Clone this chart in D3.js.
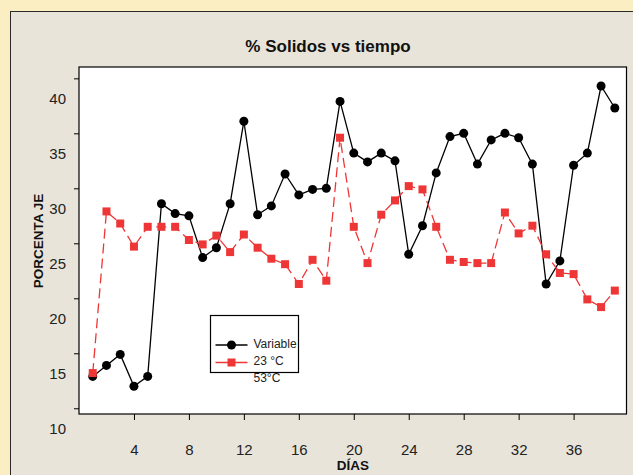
<!DOCTYPE html>
<html>
<head>
<meta charset="utf-8">
<script src="https://cdn.jsdelivr.net/npm/d3@7"></script>
<style>
  body { margin: 0; background: #fbeec3; }
  svg text { font-family: Tahoma, "Liberation Sans", Roboto, sans-serif; }
</style>
</head>
<body>
<svg id="chart" width="633" height="475"></svg>
<script>
// dias (indice) y % solidos
const dias = [1,2,3,4,5,6,7,8,9,10,11,12,13,14,15,16,17,18,19,20,
              21,22,23,24,25,26,27,28,29,30,31,32,33,34,35,36,37,38,39];
const serie_negra = [12.9, 13.9, 14.9, 12.0, 12.9, 28.6, 27.7, 27.5, 23.7, 24.6,
                     28.6, 36.1, 27.6, 28.4, 31.3, 29.4, 29.9, 30.0, 37.9, 33.2,
                     32.4, 33.2, 32.5, 24.0, 26.6, 31.4, 34.7, 35.0, 32.2, 34.4,
                     35.0, 34.6, 32.2, 21.3, 23.4, 32.1, 33.2, 39.3, 37.3];
const serie_roja = [13.2, 27.9, 26.8, 24.7, 26.5, 26.5, 26.5, 25.3, 24.9, 25.7,
                    24.2, 25.8, 24.6, 23.6, 23.1, 21.3, 23.5, 21.6, 34.6, 26.5,
                    23.2, 27.6, 28.9, 30.2, 29.9, 26.5, 23.5, 23.3, 23.2, 23.2,
                    27.8, 25.9, 26.6, 24.0, 22.3, 22.2, 19.9, 19.2, 20.7];
const y_ticks = [10, 15, 20, 25, 30, 35, 40];
const x_ticks = [4, 8, 12, 16, 20, 24, 28, 32, 36];
const legend_labels = ['Variable', '23 °C', '53°C'];

const svg = d3.select('#chart');
const plot = {left: 79, right: 626.5, top: 67, bottom: 414};

// panel gris con borde
svg.append('rect')
    .attr('x', 10.5).attr('y', 11.5)
    .attr('width', 640).attr('height', 480)
    .attr('fill', '#e8e4da')
    .attr('stroke', '#2a2a2a')
    .attr('stroke-width', 1);

const x = d3.scaleLinear().domain([0, 39.85]).range([plot.left, plot.right]);
const y = d3.scaleLinear().domain([9.48, 41.03]).range([plot.bottom, plot.top]);

// area del grafico
svg.append('rect')
    .attr('x', plot.left).attr('y', plot.top)
    .attr('width', plot.right - plot.left).attr('height', plot.bottom - plot.top)
    .attr('fill', '#ffffff')
    .attr('stroke', '#000000')
    .attr('stroke-width', 1.2);

// ejes (las etiquetas aparecen desplazadas hacia abajo en el original)
const y_axis = svg.append('g')
    .attr('transform', 'translate(' + plot.left + ',0)')
    .call(d3.axisLeft(y).tickValues(y_ticks).tickSize(5).tickSizeOuter(0).tickPadding(8));
y_axis.select('.domain').remove();
y_axis.selectAll('text')
    .attr('dy', '0.32em')
    .attr('y', 20)
    .style('font-size', '15px')
    .attr('fill', '#222');

const x_axis = svg.append('g')
    .attr('transform', 'translate(0,' + plot.bottom + ')')
    .call(d3.axisBottom(x).tickValues(x_ticks).tickSize(6).tickSizeOuter(0));
x_axis.select('.domain').remove();
x_axis.selectAll('text')
    .attr('y', 30)
    .style('font-size', '15px')
    .attr('fill', '#222');

// titulos
svg.append('text')
    .attr('x', 328).attr('y', 51.5)
    .attr('text-anchor', 'middle')
    .style('font-size', '17px').style('font-weight', 'bold')
    .attr('fill', '#111')
    .text('% Solidos vs tiempo');

svg.append('text')
    .attr('transform', 'translate(43,241) rotate(-90)')
    .attr('text-anchor', 'middle')
    .style('font-size', '13.5px').style('font-weight', 'bold')
    .attr('fill', '#111')
    .text('PORCENTA JE');

svg.append('text')
    .attr('x', 353).attr('y', 470)
    .attr('text-anchor', 'middle')
    .style('font-size', '13.5px').style('font-weight', 'bold')
    .attr('fill', '#111')
    .text('DÍAS');

// series
const line_serie = d3.line().x((d, i) => x(dias[i])).y(d => y(d));
svg.append('path')
    .attr('d', line_serie(serie_negra))
    .attr('fill', 'none')
    .attr('stroke', '#000')
    .attr('stroke-width', 1.3);

svg.append('path')
    .attr('d', line_serie(serie_roja))
    .attr('fill', 'none')
    .attr('stroke', '#ee3636')
    .attr('stroke-width', 1.3)
    .attr('stroke-dasharray', '10,5');

svg.selectAll('circle.negra')
    .data(serie_negra)
    .enter()
  .append('circle')
    .attr('class', 'negra')
    .attr('cx', (d, i) => x(dias[i]))
    .attr('cy', d => y(d))
    .attr('r', 4.5)
    .attr('fill', '#000');

svg.selectAll('rect.roja')
    .data(serie_roja)
    .enter()
  .append('rect')
    .attr('class', 'roja')
    .attr('x', (d, i) => x(dias[i]) - 4)
    .attr('y', d => y(d) - 4)
    .attr('width', 8).attr('height', 8)
    .attr('fill', '#ee3636');

// leyenda
const leg = svg.append('g').attr('transform', 'translate(210.5,315.5)');
leg.append('rect')
    .attr('width', 88).attr('height', 57)
    .attr('fill', '#fff')
    .attr('stroke', '#000')
    .attr('stroke-width', 1.2);
leg.append('path').attr('d', 'M5,29.5H37').attr('stroke', '#000').attr('stroke-width', 1.3);
leg.append('circle').attr('cx', 21).attr('cy', 29.5).attr('r', 4.5).attr('fill', '#000');
leg.append('path').attr('d', 'M5,47H37').attr('stroke', '#ee3636').attr('stroke-width', 1.3);
leg.append('rect').attr('x', 17).attr('y', 43).attr('width', 8).attr('height', 8).attr('fill', '#ee3636');
leg.selectAll('text.leg')
    .data(legend_labels)
    .enter()
  .append('text')
    .attr('class', 'leg')
    .attr('x', 43)
    .attr('y', (d, i) => 32 + i * 17)
    .style('font-size', '12px')
    .attr('fill', '#222')
    .text(d => d);
</script>
</body>
</html>
